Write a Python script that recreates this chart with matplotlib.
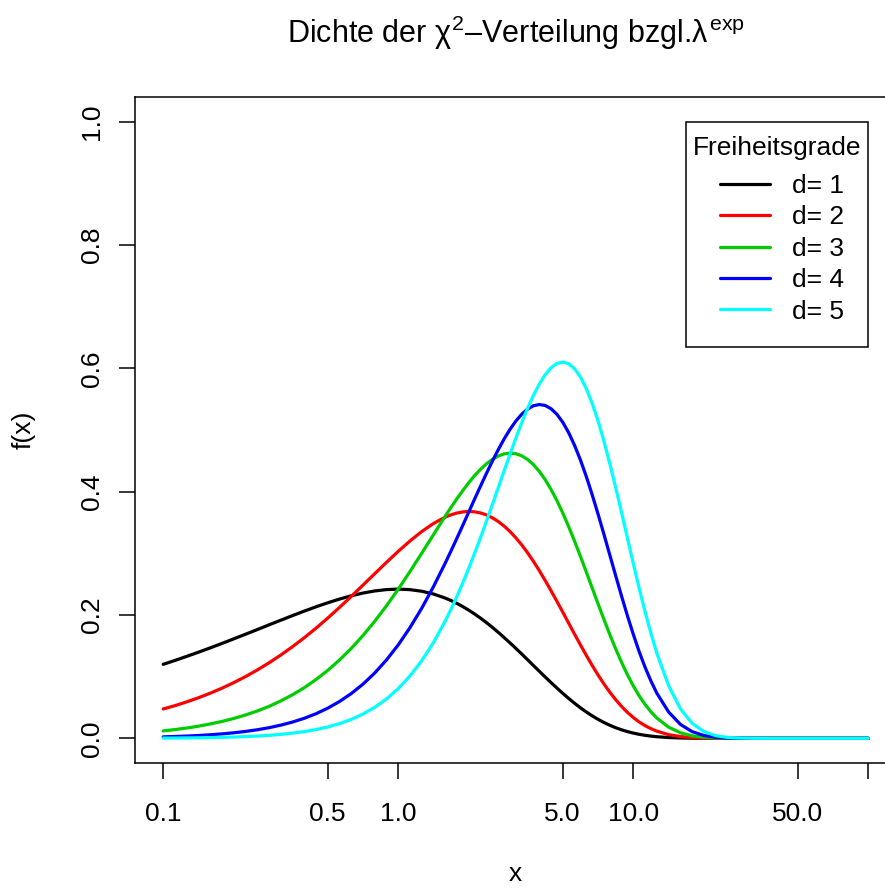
import numpy as np
import matplotlib
matplotlib.use("Agg")
import matplotlib.pyplot as plt
from matplotlib.patches import Rectangle

plt.rcParams['font.family'] = ['Liberation Sans', 'DejaVu Sans']
plt.rcParams['mathtext.fontset'] = 'custom'
plt.rcParams['mathtext.rm'] = 'Liberation Sans'
plt.rcParams['mathtext.it'] = 'Liberation Sans'

# x-Werte (log-Skala) und Dichtewerte je Freiheitsgrad
x = [0.1, 0.1122, 0.1259, 0.1413, 0.1585, 0.1778, 0.1995, 0.2239, 0.2512, 0.2818,
     0.3162, 0.3548, 0.3981, 0.4467, 0.5012, 0.5623, 0.6310, 0.7079, 0.7943, 0.8913,
     1.0, 1.122, 1.259, 1.413, 1.585,
     1.679, 1.778, 1.884, 1.995, 2.113, 2.239, 2.371, 2.512, 2.661, 2.818,
     2.985, 3.162, 3.350, 3.548, 3.758, 3.981, 4.217, 4.467, 4.732, 5.012,
     5.309, 5.623, 5.957, 6.310, 6.683, 7.079, 7.499, 7.943, 8.414, 8.913,
     9.441, 10.0, 10.59, 11.22, 11.89, 12.59,
     14.13, 15.85, 17.78, 19.95, 22.39, 25.12, 28.18, 31.62, 39.81, 50.12, 63.10, 79.43, 100.0]

d1 = [0.1200, 0.1263, 0.1329, 0.1397, 0.1467, 0.1539, 0.1613, 0.1688, 0.1763, 0.1840,
      0.1915, 0.1990, 0.2063, 0.2133, 0.2198, 0.2258, 0.2312, 0.2356, 0.2390, 0.2412,
      0.2420, 0.2411, 0.2385, 0.2340, 0.2274,
      0.2233, 0.2187, 0.2135, 0.2078, 0.2016, 0.1949, 0.1877, 0.1801, 0.1720, 0.1636,
      0.1549, 0.1460, 0.1368, 0.1275, 0.1181, 0.1088, 0.0995, 0.0904, 0.0815, 0.0729,
      0.0647, 0.0569, 0.0495, 0.0427, 0.0365, 0.0308, 0.0257, 0.0212, 0.0172, 0.0138,
      0.0109, 0.0085, 0.0065, 0.0049, 0.0036, 0.0026,
      0.0013, 0.0006, 0.0002, 0.0001, 0.0, 0.0, 0.0, 0.0, 0.0, 0.0, 0.0, 0.0, 0.0]

d2 = [0.0476, 0.0530, 0.0591, 0.0658, 0.0732, 0.0813, 0.0903, 0.1001, 0.1108, 0.1224,
      0.1350, 0.1486, 0.1631, 0.1786, 0.1950, 0.2123, 0.2301, 0.2485, 0.2670, 0.2854,
      0.3033, 0.3201, 0.3354, 0.3485, 0.3588,
      0.3626, 0.3654, 0.3672, 0.3679, 0.3673, 0.3655, 0.3623, 0.3577, 0.3517, 0.3443,
      0.3355, 0.3253, 0.3138, 0.3010, 0.2870, 0.2720, 0.2560, 0.2393, 0.2221, 0.2045,
      0.1867, 0.1690, 0.1515, 0.1345, 0.1182, 0.1027, 0.0882, 0.0748, 0.0627, 0.0517,
      0.0421, 0.0337, 0.0265, 0.0205, 0.0156, 0.0116,
      0.0060, 0.0029, 0.0012, 0.0005, 0.0002, 0.0, 0.0, 0.0, 0.0, 0.0, 0.0, 0.0, 0.0]

d3 = [0.0120, 0.0142, 0.0167, 0.0197, 0.0233, 0.0274, 0.0322, 0.0378, 0.0443, 0.0518,
      0.0606, 0.0706, 0.0821, 0.0953, 0.1102, 0.1270, 0.1458, 0.1668, 0.1899, 0.2150,
      0.2420, 0.2706, 0.3003, 0.3305, 0.3604,
      0.3749, 0.3888, 0.4021, 0.4146, 0.4261, 0.4363, 0.4451, 0.4523, 0.4578, 0.4612,
      0.4625, 0.4616, 0.4582, 0.4523, 0.4439, 0.4329, 0.4195, 0.4036, 0.3855, 0.3653,
      0.3432, 0.3197, 0.2951, 0.2696, 0.2438, 0.2181, 0.1928, 0.1683, 0.1450, 0.1232,
      0.1031, 0.0850, 0.0689, 0.0549, 0.0429, 0.0329,
      0.0181, 0.0091, 0.0041, 0.0017, 0.0006, 0.0002, 0.0, 0.0, 0.0, 0.0, 0.0, 0.0, 0.0]

d4 = [0.0024, 0.0030, 0.0037, 0.0046, 0.0058, 0.0072, 0.0090, 0.0112, 0.0139, 0.0172,
      0.0214, 0.0264, 0.0325, 0.0399, 0.0489, 0.0597, 0.0726, 0.0879, 0.1060, 0.1272,
      0.1516, 0.1796, 0.2111, 0.2462, 0.2843,
      0.3044, 0.3249, 0.3459, 0.3670, 0.3882, 0.4091, 0.4295, 0.4493, 0.4679, 0.4852,
      0.5008, 0.5144, 0.5255, 0.5339, 0.5393, 0.5413, 0.5398, 0.5345, 0.5254, 0.5124,
      0.4956, 0.4751, 0.4513, 0.4245, 0.3950, 0.3636, 0.3308, 0.2972, 0.2636, 0.2305,
      0.1986, 0.1685, 0.1405, 0.1152, 0.0927, 0.0732,
      0.0427, 0.0227, 0.0109, 0.0046, 0.0017, 0.0006, 0.0002, 0.0, 0.0, 0.0, 0.0, 0.0, 0.0]

d5 = [0.0004, 0.0005, 0.0007, 0.0009, 0.0012, 0.0016, 0.0021, 0.0028, 0.0037, 0.0049,
      0.0064, 0.0084, 0.0109, 0.0142, 0.0184, 0.0238, 0.0307, 0.0394, 0.0503, 0.0639,
      0.0807, 0.1012, 0.1260, 0.1556, 0.1904,
      0.2098, 0.2305, 0.2525, 0.2758, 0.3002, 0.3256, 0.3518, 0.3787, 0.4060, 0.4333,
      0.4603, 0.4865, 0.5116, 0.5350, 0.5561, 0.5745, 0.5896, 0.6009, 0.6079, 0.6102,
      0.6074, 0.5993, 0.5859, 0.5671, 0.5432, 0.5146, 0.4819, 0.4456, 0.4067, 0.3660,
      0.3245, 0.2833, 0.2433, 0.2053, 0.1700, 0.1380,
      0.0854, 0.0481, 0.0244, 0.0110, 0.0043, 0.0015, 0.0005, 0.0001, 0.0, 0.0, 0.0, 0.0, 0.0]

series = [d1, d2, d3, d4, d5]
labels = ['d= 1', 'd= 2', 'd= 3', 'd= 4', 'd= 5']
colors = ['black', '#FF0000', '#00CD00', '#0000FF', '#00FFFF']

x_ticks = [0.1, 0.5, 1, 5, 10, 50, 100]
x_ticklabels = ['0.1', '0.5', '1.0', '5.0', '10.0', '50.0', '']
y_ticks = [0.0, 0.2, 0.4, 0.6, 0.8, 1.0]
y_ticklabels = ['0.0', '0.2', '0.4', '0.6', '0.8', '1.0']

W, H = 885, 891
fig = plt.figure(figsize=(W / 100, H / 100), dpi=100)
# Plotbereich reicht rechts etwas ueber den Bildrand hinaus (wie im Original)
ax = fig.add_axes([135 / W, 128 / H, 761.6 / W, 666 / H])

lines = []
for d, c, lab in zip(series, colors, labels):
    ln, = ax.plot(x, d, color=c, lw=2.3, label=lab,
                  solid_capstyle='round', solid_joinstyle='round')
    lines.append(ln)

ax.set_xscale('log')
ax.set_xlim(10 ** -1.12, 10 ** 2.12)
ax.set_ylim(-0.04, 1.04)

ax.set_xticks(x_ticks)
ax.set_xticklabels(x_ticklabels)
ax.xaxis.set_minor_locator(matplotlib.ticker.NullLocator())
ax.set_yticks(y_ticks)
ax.set_yticklabels(y_ticklabels, rotation=90, va='center')

ax.tick_params(axis='both', direction='out', length=11.5, width=1.1,
               labelsize=19, color='black')
ax.tick_params(axis='x', pad=16.5)
ax.tick_params(axis='y', pad=11)
for sp in ax.spines.values():
    sp.set_linewidth(1.1)

ax.set_xlabel('x', fontsize=19, labelpad=26)
ax.set_ylabel('f(x)', fontsize=19, labelpad=32)

ax.set_title('Dichte der $\\chi^{2}$\u2013Verteilung bzgl.$\\lambda^{\\mathrm{exp}}$',
             fontsize=22, y=(763 - 43.5) / 666, va='baseline', pad=0)

# Legende: Rahmen, Titel und Eintraege
box = Rectangle((686 / W, 1 - 347 / H), 182 / W, 225 / H, transform=fig.transFigure,
                facecolor='white', edgecolor='black', lw=1.1, clip_on=False, zorder=4)
ax.add_patch(box)
ax.text(777.5 / W, 1 - 155 / H, 'Freiheitsgrade', transform=fig.transFigure,
        ha='center', va='baseline', fontsize=19, zorder=6)
ax.legend(handles=lines, loc='upper left', bbox_to_anchor=(720 / W, 1 - 174 / H),
          bbox_transform=fig.transFigure, frameon=False, fontsize=19,
          borderpad=0, borderaxespad=0, handlelength=1.89, handletextpad=0.83,
          labelspacing=0.28)

plt.savefig('out.png', dpi=100)
